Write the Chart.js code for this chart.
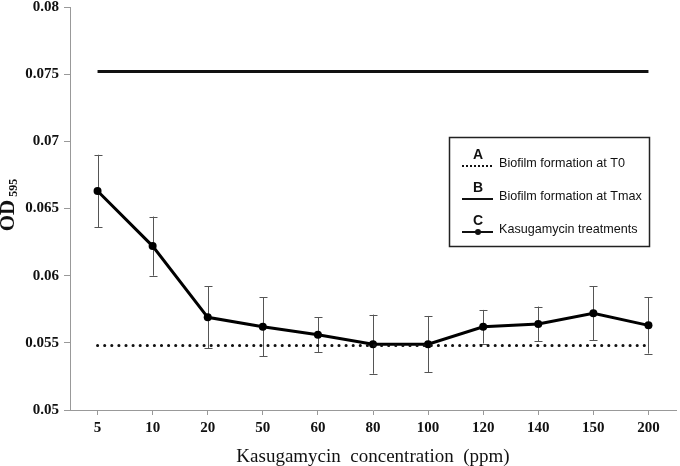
<!DOCTYPE html>
<html>
<head>
<meta charset="utf-8">
<script src="https://cdn.jsdelivr.net/npm/chart.js@4.4.1/dist/chart.umd.min.js"></script>
<style>
  html, body { margin: 0; padding: 0; background: #fff; }
  #wrap { width: 680px; height: 466px; }
</style>
</head>
<body>
<div id="wrap"><canvas id="lineChart"></canvas></div>
<script>
// values
const concentrations = ['5', '10', '20', '50', '60', '80', '100', '120', '140', '150', '200'];
const treatment = [0.0663, 0.0622, 0.0569, 0.0562, 0.0556, 0.0549, 0.0549, 0.0562, 0.0564, 0.0572, 0.0563];
const treatmentErr = [0.0027, 0.0022, 0.0023, 0.0022, 0.0013, 0.0022, 0.0021, 0.00125, 0.0013, 0.0020, 0.0021];
const biofilmT0 = 0.0548;
const biofilmTmax = 0.0752;
const yTicks = [0.05, 0.055, 0.06, 0.065, 0.07, 0.075, 0.08];

const legendItems = [
    { letter: 'A', text: 'Biofilm formation at T0', style: 'dotted' },
    { letter: 'B', text: 'Biofilm formation at Tmax', style: 'solid' },
    { letter: 'C', text: 'Kasugamycin treatments', style: 'marker' }
];

/**
 * Build a flat line across all categories.
 */
function flatLine(value) {
    const out = [];
    for (let i = 0; i < concentrations.length; i++) {
        out.push(value);
    }
    return out;
}

// error bars drawn under the treatment line
const errorBars = {
    id: 'errorBars',
    beforeDatasetsDraw(chart) {
        const ctx = chart.ctx;
        const x = chart.scales.x;
        const y = chart.scales.y;
        ctx.save();
        ctx.strokeStyle = '#555';
        ctx.lineWidth = 1;
        for (let i = 0; i < treatment.length; i++) {
            const px = Math.round(x.getPixelForValue(i)) + 0.5;
            const top = y.getPixelForValue(treatment[i] + treatmentErr[i]);
            const bot = y.getPixelForValue(treatment[i] - treatmentErr[i]);
            ctx.beginPath();
            ctx.moveTo(px, top);
            ctx.lineTo(px, bot);
            ctx.moveTo(px - 4, Math.round(top) + 0.5);
            ctx.lineTo(px + 4, Math.round(top) + 0.5);
            ctx.moveTo(px - 4, Math.round(bot) + 0.5);
            ctx.lineTo(px + 4, Math.round(bot) + 0.5);
            ctx.stroke();
        }
        ctx.restore();
    }
};

// axis titles (OD595 needs a subscript) and the boxed legend
const extras = {
    id: 'extras',
    afterDraw(chart) {
        const ctx = chart.ctx;
        const area = chart.chartArea;

        // x title
        ctx.save();
        ctx.fillStyle = '#111';
        ctx.font = '19px "Liberation Serif"';
        ctx.textAlign = 'center';
        ctx.textBaseline = 'alphabetic';
        ctx.fillText('Kasugamycin  concentration  (ppm)', (area.left + area.right) / 2, 462);
        ctx.restore();

        // OD595
        ctx.save();
        ctx.translate(9, 205);
        ctx.rotate(-Math.PI / 2);
        ctx.fillStyle = '#111';
        ctx.textBaseline = 'middle';
        ctx.font = 'bold 21px "Liberation Serif"';
        const odW = ctx.measureText('OD').width;
        ctx.font = 'bold 12px "Liberation Serif"';
        const subW = ctx.measureText('595').width;
        const start = -(odW + 3 + subW) / 2;
        ctx.font = 'bold 21px "Liberation Serif"';
        ctx.textAlign = 'left';
        ctx.fillText('OD', start, 0);
        ctx.font = 'bold 12px "Liberation Serif"';
        ctx.fillText('595', start + odW + 3, 5);
        ctx.restore();

        // legend box
        ctx.save();
        ctx.strokeStyle = '#222';
        ctx.lineWidth = 1.5;
        ctx.strokeRect(449.5, 137.5, 200, 109);
        legendItems.forEach((item, i) => {
            const yy = 166 + i * 33;
            ctx.fillStyle = '#111';
            ctx.font = 'bold 14px "Liberation Sans"';
            ctx.textAlign = 'center';
            ctx.textBaseline = 'middle';
            ctx.fillText(item.letter, 478, yy - 11);
            ctx.strokeStyle = '#111';
            ctx.beginPath();
            if (item.style === 'dotted') {
                ctx.lineWidth = 2;
                ctx.setLineDash([2, 2]);
            } else {
                ctx.lineWidth = 2;
                ctx.setLineDash([]);
            }
            ctx.moveTo(462, yy);
            ctx.lineTo(493, yy);
            ctx.stroke();
            ctx.setLineDash([]);
            if (item.style === 'marker') {
                ctx.beginPath();
                ctx.arc(478, yy, 3, 0, Math.PI * 2);
                ctx.fill();
            }
            ctx.font = '12.6px "Liberation Sans"';
            ctx.textAlign = 'left';
            ctx.fillText(item.text, 499, yy - 2);
        });
        ctx.restore();
    }
};

function showLineChart() {
    const ctx = document.getElementById('lineChart');
    new Chart(ctx, {
        type: 'line',
        data: {
            labels: concentrations,
            datasets: [{
                label: 'Biofilm formation at Tmax',
                data: flatLine(biofilmTmax),
                borderColor: '#111',
                borderWidth: 3,
                pointRadius: 0,
                fill: false
            }, {
                label: 'Biofilm formation at T0',
                data: flatLine(biofilmT0),
                borderColor: '#111',
                borderWidth: 3,
                borderDash: [0.1, 7],
                borderCapStyle: 'round',
                pointRadius: 0,
                fill: false
            }, {
                label: 'Kasugamycin treatments',
                data: treatment,
                borderColor: '#000',
                backgroundColor: '#000',
                borderWidth: 3,
                pointRadius: 4,
                pointBorderWidth: 0,
                tension: 0,
                fill: false
            }]
        },
        options: {
            responsive: true,
            maintainAspectRatio: false,
            animation: false,
            layout: { padding: { top: 7, right: 1, left: 0, bottom: 0 } },
            plugins: {
                legend: { display: false },
                tooltip: { enabled: false }
            },
            scales: {
                x: {
                    offset: true,
                    afterFit: (s) => { s.height = 56; },
                    border: { color: '#999', width: 1 },
                    grid: {
                        offset: false,
                        drawOnChartArea: false,
                        tickLength: 5,
                        color: '#999'
                    },
                    ticks: {
                        color: '#111',
                        padding: 4,
                        font: { family: 'Liberation Serif', size: 15, weight: 'bold' }
                    }
                },
                y: {
                    min: 0.05,
                    max: 0.08,
                    afterFit: (s) => {
                        s.width = 70;
                        s.paddingTop = 0;
                        s.paddingBottom = 0;
                    },
                    afterBuildTicks: (s) => { s.ticks = yTicks.map(v => ({ value: v })); },
                    border: { color: '#999', width: 1 },
                    grid: {
                        drawOnChartArea: false,
                        tickLength: 6,
                        color: '#999'
                    },
                    ticks: {
                        color: '#111',
                        padding: 5,
                        font: { family: 'Liberation Serif', size: 15, weight: 'bold' },
                        callback: (v) => String(Number(v.toFixed(3)))
                    }
                }
            }
        },
        plugins: [errorBars, extras]
    });
}

showLineChart();
</script>
</body>
</html>
